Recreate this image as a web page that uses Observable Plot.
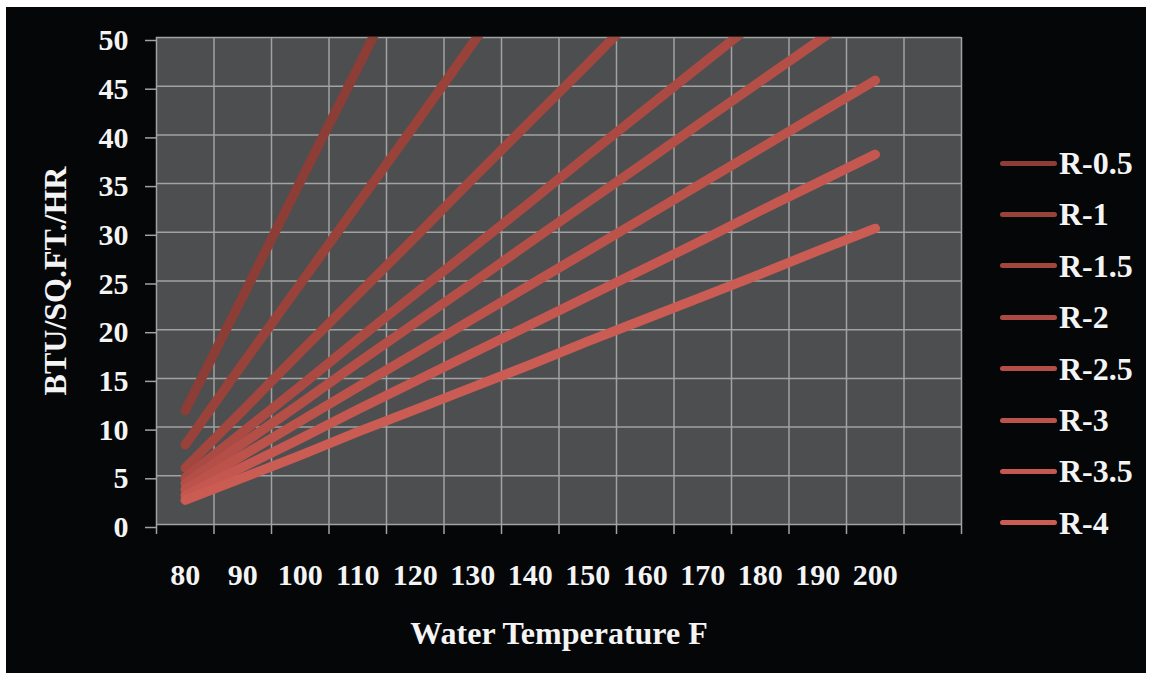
<!DOCTYPE html>
<html>
<head>
<meta charset="utf-8">
<script src="https://cdn.jsdelivr.net/npm/d3@7"></script>
<script src="https://cdn.jsdelivr.net/npm/@observablehq/plot@0.6"></script>
<style>
  html, body { margin: 0; padding: 0; background: #ffffff; }
  #wrap { position: absolute; left: 6px; top: 7px; width: 1140px; height: 666px; background: #050608; overflow: hidden; }
  #chart { position: absolute; left: 0; top: 0; }
  #legend { position: absolute; left: 994px; top: 130px; }
  .item { position: absolute; display: flex; align-items: center; height: 40px; white-space: nowrap; }
  .sw { width: 57px; height: 5px; border-radius: 3px; margin-right: 2px; }
  .lab { font-family: "Liberation Serif", "Times New Roman", serif; font-weight: bold; font-size: 32px; color: #f4f4f4; line-height: 40px; }
</style>
</head>
<body>
<div id="wrap">
  <div id="chart"></div>
  <div id="legend"></div>
</div>
<script>
// ---- data ----
const temps = [80, 90, 100, 110, 120, 130, 140, 150, 160, 170, 180, 190, 200];
const seriesNames = ["R-0.5", "R-1", "R-1.5", "R-2", "R-2.5", "R-3", "R-3.5", "R-4"];
const r05 = [11.7, 23.4, 35.2, 46.9, 58.7];
const r1  = [8.2, 16.5, 24.7, 32.9, 41.1, 49.4, 57.6];
const r15 = [5.8, 11.7, 17.7, 23.6, 29.5, 35.5, 41.4, 47.3, 53.3];
const r2  = [4.8, 9.5, 14.2, 19.0, 23.7, 28.4, 33.1, 37.9, 42.6, 47.3, 52.0];
const r25 = [4.2, 8.3, 12.4, 16.6, 20.7, 24.8, 29.0, 33.1, 37.2, 41.4, 45.5, 49.6, 53.7];
const r3  = [3.6, 7.1, 10.6, 14.1, 17.6, 21.1, 24.6, 28.1, 31.6, 35.1, 38.6, 42.1, 45.6];
const r35 = [3.0, 5.9, 8.8, 11.8, 14.7, 17.6, 20.5, 23.4, 26.3, 29.2, 32.2, 35.1, 38.0];
const r4  = [2.5, 4.8, 7.1, 9.5, 11.8, 14.1, 16.4, 18.8, 21.1, 23.4, 25.7, 28.1, 30.4];
const seriesValues = [r05, r1, r15, r2, r25, r3, r35, r4];
const seriesColors = ["#8c3d36", "#98423a", "#a2463e", "#ab4a43", "#b44f47", "#bc534b", "#c4574f", "#cb5c54"];
const xTickLabels = [80, 90, 100, 110, 120, 130, 140, 150, 160, 170, 180, 190, 200];
const xGridTicks = [75, 85, 95, 105, 115, 125, 135, 145, 155, 165, 175, 185, 195, 205, 215];
const yTicks = [0, 5, 10, 15, 20, 25, 30, 35, 40, 45, 50];
const xTitle = "Water Temperature F";
const yTitle = "BTU/SQ.FT./HR";

// ---- table ----
const rows = [];
seriesNames.forEach((name, s) => {
  seriesValues[s].forEach((v, i) => rows.push({series: name, temp: temps[i], btu: v}));
});

const gridColor = "#a2a2a2";
const textColor = "#f4f4f4";

const chart = Plot.plot({
  width: 1140,
  height: 666,
  marginLeft: 150,
  marginRight: 185,
  marginTop: 30,
  marginBottom: 149,
  style: {fontFamily: "'Liberation Serif', 'Times New Roman', serif", fontSize: "30px", fontWeight: "bold", background: "transparent", color: textColor},
  x: {domain: [75, 215]},
  y: {domain: [0, 50]},
  color: {domain: seriesNames, range: seriesColors},
  marks: [
    Plot.frame({fill: "#4d4e50", stroke: null}),
    Plot.gridX(xGridTicks, {stroke: gridColor, strokeOpacity: 1, strokeWidth: 1.5}),
    Plot.gridY(yTicks, {stroke: gridColor, strokeOpacity: 1, strokeWidth: 1.5}),
    Plot.axisY({ticks: yTicks, tickSize: 11, tickPadding: 17, stroke: gridColor, fill: textColor, label: null, dy: 3, strokeWidth: 1.5}),
    Plot.axisX({ticks: xGridTicks, tickSize: 10, tickFormat: () => "", stroke: gridColor, label: null, strokeWidth: 1.5}),
    Plot.axisX({ticks: xTickLabels, tickSize: 0, tickPadding: 39, fill: textColor, label: null}),
    Plot.line(rows, {x: "temp", y: "btu", z: "series", stroke: "series", strokeWidth: 9.5, strokeLinecap: "round", strokeLinejoin: "round", clip: true}),
    Plot.text([xTitle], {frameAnchor: "bottom", dy: 109, lineAnchor: "middle", fill: textColor, fontSize: 32}),
    Plot.text([yTitle], {frameAnchor: "left", dx: -101, rotate: -90, lineAnchor: "middle", textAnchor: "middle", fill: textColor, fontSize: 32})
  ]
});
document.getElementById("chart").appendChild(chart);

// ---- legend ----
const legend = document.getElementById("legend");
seriesNames.forEach((name, i) => {
  const item = document.createElement("div");
  item.className = "item";
  item.style.top = (26 + i * 51.4 - 20) + "px";
  const sw = document.createElement("div");
  sw.className = "sw";
  sw.style.background = seriesColors[i];
  const lab = document.createElement("span");
  lab.className = "lab";
  lab.textContent = name;
  item.appendChild(sw);
  item.appendChild(lab);
  legend.appendChild(item);
});
</script>
</body>
</html>
